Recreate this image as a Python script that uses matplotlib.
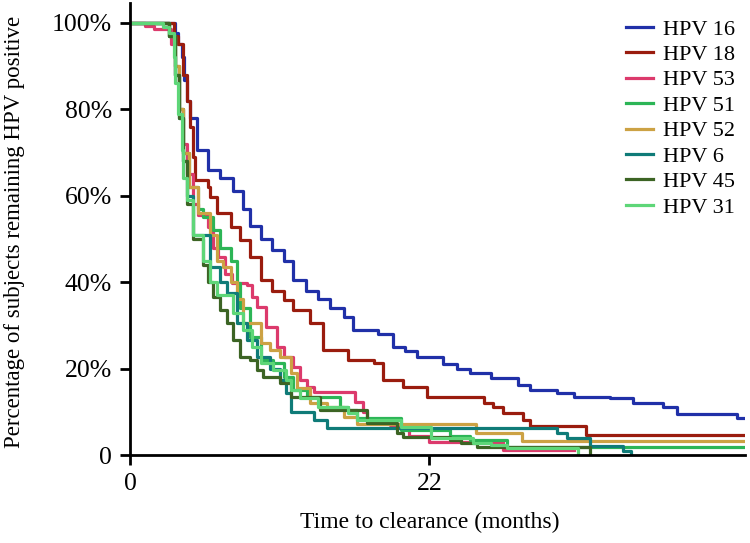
import numpy as np
import matplotlib.pyplot as plt

plt.rcParams['font.family'] = ['Liberation Serif', 'DejaVu Serif']

# months / percent remaining
t16 = [0, 3.3, 3.5, 3.8, 4.0, 4.2, 4.4, 4.9, 5.7, 6.6, 7.6, 8.3, 8.8, 9.6, 10.4, 11.3, 12.0, 12.9, 13.8, 14.7,
       15.7, 16.4, 18.2, 19.3, 20.2, 21.1, 23.0, 24.0, 25.0, 26.5, 28.5, 29.4, 31.4, 32.6, 35.3, 37.0, 39.2, 40.2, 44.6, 45.2]
s16 = [100, 97.7, 95, 92, 86.8, 82, 78, 70.6, 66, 64, 61, 57, 53, 50, 47.5, 45, 40.5, 38, 36, 34,
       32, 29, 28, 25, 24, 22.7, 21, 20, 19, 17.8, 16.2, 15, 14.4, 13.4, 13.2, 12, 11.1, 9.5, 8.6, 8.6]

t18 = [0, 3.2, 3.5, 3.9, 4.2, 4.4, 4.6, 4.8, 5.7, 5.9, 6.4, 7.4, 8.1, 8.8, 9.6, 10.4, 11.3, 12.0, 13.2, 14.2,
       16.0, 17.9, 18.6, 20.1, 21.8, 26.0, 26.7, 27.4, 28.9, 29.4, 33.5, 45.2]
s18 = [100, 97, 95, 88, 82, 76, 69, 63.7, 62, 59.7, 56, 52.8, 49.8, 45.8, 40.5, 38, 35.9, 33.6, 30.6, 24.3,
       22, 21.3, 17.4, 15.7, 13.4, 12, 11.1, 9.7, 8.1, 6.7, 4.6, 4.6]

t53 = [0, 1.1, 1.8, 3.0, 3.3, 3.6, 3.9, 4.2, 4.6, 5.0, 5.7, 6.1, 6.5, 7.0, 7.5, 8.6, 9.0, 9.3, 10.0, 10.8,
       11.3, 12.0, 12.5, 13.0, 13.5, 16.5, 17.1, 17.4, 19.1, 20.5, 22.0, 27.4, 32.6]
s53 = [100, 99.3, 98.6, 95, 88, 80, 72, 65, 58, 55.5, 52.8, 48, 45.8, 42, 39.8, 39.4, 36.6, 34.3, 29.6, 25,
       22.7, 20.4, 17.4, 15.7, 14.6, 12.3, 10, 8.1, 6.9, 4.5, 3.0, 1.2, 1.2]

t51 = [0, 2.9, 3.3, 3.6, 3.9, 4.3, 5.0, 5.4, 6.1, 6.6, 7.4, 7.9, 8.1, 8.8, 9.6, 10.5, 11.3, 12.0, 13.0, 15.4,
       16.0, 16.7, 19.9, 23.5, 25.0, 27.7, 45.2]
s51 = [100, 97, 90, 80, 70, 62, 57, 55, 52, 48, 45, 39.8, 34, 27.3, 22, 21.3, 18, 15, 13.4, 11,
       10.4, 8.6, 5.8, 4.5, 3.5, 1.8, 1.8]

t52 = [0, 2.9, 3.3, 3.6, 3.9, 4.3, 5.0, 5.9, 6.4, 6.8, 7.4, 7.9, 8.3, 9.6, 10.3, 11.0, 11.8, 12.3, 13.2, 14.5,
       15.7, 16.7, 25.4, 28.8, 45.2]
s52 = [100, 97, 90, 80, 70, 62, 56, 51, 45, 43.5, 40, 36, 30.6, 26, 24.3, 22.7, 19, 15.5, 12, 11,
       8.8, 7.2, 5, 3.2, 3.2]

t6 = [0, 2.9, 3.3, 3.6, 3.9, 4.2, 4.6, 5.9, 6.6, 7.1, 7.9, 8.6, 9.3, 10.3, 11.0, 11.5, 11.8, 13.5, 14.5, 31.4,
      32.1, 33.8, 36.2, 36.8]
s6 = [100, 97, 88, 78, 68, 60, 51, 43.5, 40, 37.5, 30.6, 26.6, 22.7, 20, 17.4, 14.4, 10, 8.1, 6.3, 5,
      4, 2, 1, 0]

t45 = [0, 2.9, 3.3, 3.6, 3.9, 4.2, 4.6, 5.4, 5.7, 6.1, 6.6, 7.1, 7.6, 8.1, 8.8, 9.3, 9.8, 11.0, 11.8, 14.0,
       17.4, 19.6, 20.1, 23.5, 24.3, 25.5, 33.8]
s45 = [100, 97, 88, 78, 68, 58, 50, 44, 40, 36.6, 33.6, 30.6, 26.6, 22.7, 22, 19.7, 18, 16.6, 13.4, 10.4,
       7.4, 5, 4.2, 3.5, 2.8, 1.9, 0]

t31 = [0, 2.4, 2.9, 3.2, 3.3, 3.5, 3.8, 3.9, 4.2, 4.6, 5.4, 5.9, 6.4, 7.6, 8.3, 9.0, 9.6, 10.5, 11.5, 11.8,
       12.5, 13.8, 16.0, 16.7, 19.9, 22.1, 25.2, 26.5, 27.7, 32.9]
s31 = [100, 99, 97.7, 92, 86, 79, 70.6, 64, 59, 51, 45, 40, 37, 32.9, 29, 25, 21.3, 19.7, 17.4, 15,
       13.2, 11.1, 9.7, 8.1, 6.5, 3.9, 2.8, 2.3, 1.6, 0]

labels = ['HPV 16', 'HPV 18', 'HPV 53', 'HPV 51', 'HPV 52', 'HPV 6', 'HPV 45', 'HPV 31']
colors = ['#2030a8', '#9a1c0e', '#dc3a6c', '#2cb556', '#cca244', '#0f7b78', '#3c6424', '#5ed678']
series = [(t16, s16), (t18, s18), (t53, s53), (t51, s51), (t52, s52), (t6, s6), (t45, s45), (t31, s31)]

fig = plt.figure(figsize=(7.5, 5.43), dpi=100)
ax = fig.add_axes([130/750, 1-455/543, 615/750, 452/543])

for (t, s), lab, c in zip(series, labels, colors):
    ax.step(t, s, where='post', color=c, lw=2.3, label=lab)

ax.set_xlim(0, 45.2)
ax.set_ylim(0, 104.6)
ax.set_xticks([0, 22])
ax.set_yticks([0, 20, 40, 60, 80, 100])
ax.set_yticklabels(['0', '20%', '40%', '60%', '80%', '100%'])
ax.tick_params(labelsize=18.5, length=7, width=2, pad=6, colors='black')
for side in ['top', 'right']:
    ax.spines[side].set_visible(False)
for side in ['left', 'bottom']:
    ax.spines[side].set_linewidth(2)

fig.text(430/750, 1-522/543, 'Time to clearance (months)', ha='center', va='center', fontsize=17)
fig.text(15/750, 1-232/543, 'Percentage of subjects remaining HPV positive', ha='center', va='center',
         rotation=90, fontsize=16.5)

fig.legend(loc='upper left', bbox_to_anchor=(626/750, 1-19/543), frameon=False, fontsize=16,
           handlelength=1.2, handletextpad=0.45, labelspacing=0.22, borderpad=0, borderaxespad=0)

fig.savefig('out.png', dpi=100)
